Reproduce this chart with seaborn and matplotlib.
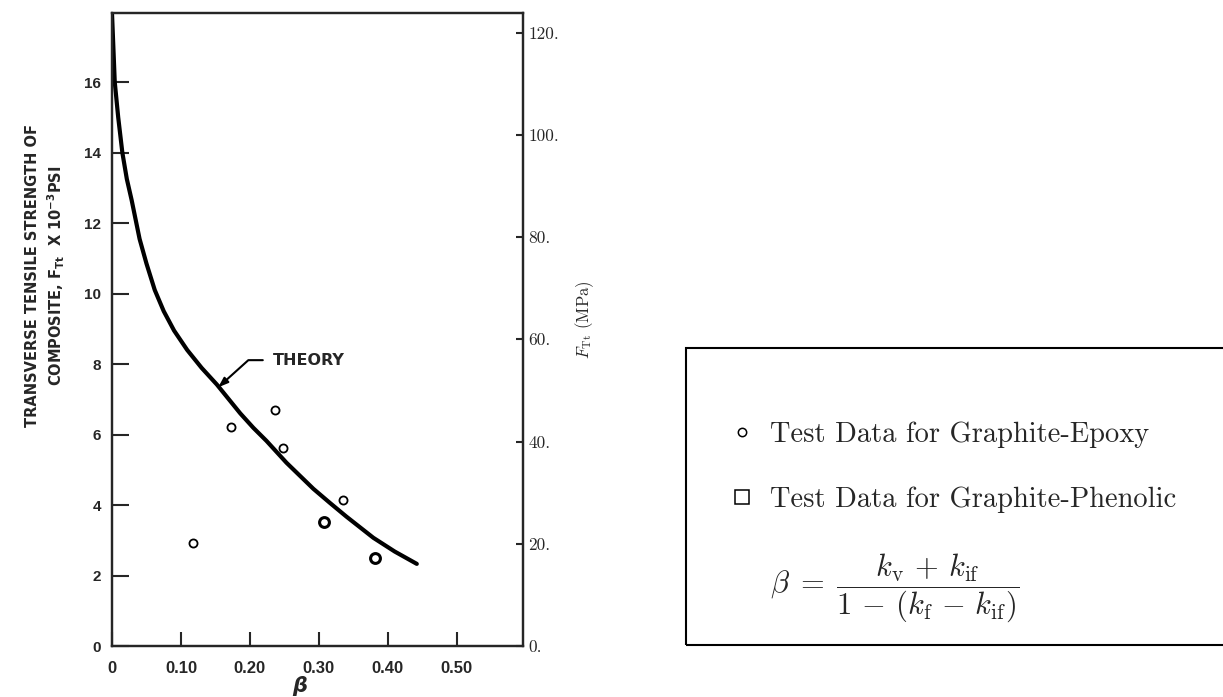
import matplotlib
matplotlib.use("Agg")
import matplotlib.pyplot as plt
from matplotlib.lines import Line2D
from matplotlib.patches import Rectangle
import seaborn as sns

# theory curve
theory_beta = [0.0, 0.004, 0.009, 0.015, 0.0215, 0.0285, 0.040, 0.050, 0.062,
               0.075, 0.090, 0.109, 0.130, 0.152, 0.186, 0.205, 0.224, 0.253,
               0.292, 0.316, 0.340, 0.379, 0.410, 0.442]
theory_ft = [17.95, 16.0, 15.0, 14.0, 13.25, 12.65, 11.55, 10.85, 10.10,
             9.50, 8.95, 8.40, 7.89, 7.42, 6.60, 6.19, 5.82, 5.20,
             4.46, 4.06, 3.67, 3.07, 2.68, 2.33]

# test data (ksi)
epoxy_beta = [0.118, 0.1725, 0.237, 0.248, 0.335]
epoxy_ft = [2.93, 6.20, 6.71, 5.62, 4.13]
phenolic_beta = [0.307, 0.382]
phenolic_ft = [3.53, 2.51]

x_ticks = [0.0, 0.1, 0.2, 0.3, 0.4, 0.5]
x_ticklabels = ["0", "0.10", "0.20", "0.30", "0.40", "0.50"]
y_ticks = [0, 2, 4, 6, 8, 10, 12, 14, 16]
mpa_ticks = [0, 20, 40, 60, 80, 100, 120]
mpa_ticklabels = ["0.", "20.", "40.", "60.", "80.", "100.", "120."]
KSI_TO_MPA = 6.895

legend_labels = ["Test Data for Graphite-Epoxy",
                 "Test Data for Graphite-Phenolic",
                 r"$\beta\;=\;\dfrac{k_{\rm v}\,+\,k_{\rm if}}"
                 r"{1\,-\,(k_{\rm f}\,-\,k_{\rm if})}$"]

sns.set_style("ticks")
plt.rcParams["mathtext.fontset"] = "cm"
plt.rcParams["font.family"] = ["Liberation Sans", "DejaVu Sans"]

W, H = 1223, 697
fig = plt.figure(figsize=(W / 100, H / 100), dpi=100)
ax = fig.add_axes([112 / W, 51 / H, 411 / W, 633 / H])

sns.lineplot(x=theory_beta, y=theory_ft, ax=ax, color="black", lw=3.0,
             sort=False, solid_joinstyle="round", solid_capstyle="round")
sns.scatterplot(x=epoxy_beta, y=epoxy_ft, ax=ax, marker="o", s=34,
                facecolor="white", edgecolor="black", linewidth=1.3, zorder=3)
sns.scatterplot(x=phenolic_beta, y=phenolic_ft, ax=ax, marker="o", s=50,
                facecolor="white", edgecolor="black", linewidth=2.2, zorder=3)

ax.set_xlim(0, 0.596)
ax.set_ylim(0, 17.96)
ax.set_xticks(x_ticks)
ax.set_xticklabels(x_ticklabels)
ax.set_yticks(y_ticks)
ax.set_yticklabels([str(v) for v in y_ticks])
for s in ax.spines.values():
    s.set_linewidth(1.6)
ax.tick_params(axis="y", direction="in", length=12, width=1.5, pad=8,
               labelsize=11)
ax.tick_params(axis="x", direction="in", length=10, width=1.5, pad=11,
               labelsize=12)
for lab in ax.get_xticklabels() + ax.get_yticklabels():
    lab.set_fontweight("bold")

ax.set_xlabel(r"$\boldsymbol{\beta}$", fontsize=15, math_fontfamily="dejavusans")
ax.xaxis.set_label_coords(0.457, -0.045)
ax.set_ylabel("TRANSVERSE TENSILE STRENGTH OF\n"
              r"COMPOSITE, $\mathbf{F}_{\mathbf{Tt}}$  X 10$^{\mathbf{-3}}$PSI",
              fontsize=10.5, fontweight="bold", family="DejaVu Sans",
              linespacing=1.3, math_fontfamily="dejavusans")
ax.yaxis.set_label_coords(-0.11, 0.585)

ax.annotate("THEORY", xy=(0.154, 7.34), xytext=(0.2335, 8.11),
            fontsize=11.5, fontweight="bold", family="DejaVu Sans",
            ha="left", va="center",
            arrowprops=dict(arrowstyle="-|>,head_length=0.5,head_width=0.18",
                            color="black", lw=1.5, shrinkA=5, shrinkB=0,
                            connectionstyle="angle,angleA=0,angleB=42,rad=0"))

# MPa scale on the right
ax2 = ax.twinx()
ax2.set_ylim(0, 17.96 * KSI_TO_MPA)
ax2.set_yticks(mpa_ticks)
ax2.set_yticklabels(mpa_ticklabels, family="cmr10", fontsize=12.5)
ax2.tick_params(axis="y", direction="in", length=5, width=1.5, pad=4)
for s in ax2.spines.values():
    s.set_linewidth(1.6)
ax2.set_ylabel(r"$F_{\rm Tt}$ (MPa)", family="cmr10", fontsize=12)
ax2.yaxis.set_label_coords(1.122, 0.515)

# key box
handles = [
    Line2D([], [], ls="none", marker="o", ms=6, mfc="white", mec="black", mew=1.1),
    Line2D([], [], ls="none", marker="s", ms=10, mfc="white", mec="black", mew=1.1),
    Line2D([], [], ls="none"),
]
leg = fig.legend(handles, legend_labels, loc="upper left",
                 bbox_to_anchor=(705 / W, 1 - 396 / H), frameon=False,
                 prop={"family": "cmr10", "size": 20.5}, borderpad=0.4,
                 handlelength=0.8, handletextpad=0.6, labelspacing=1.35)
leg.get_texts()[2].set_fontsize(22)
fig.patches.append(Rectangle((686 / W, 1 - 645 / H), 0.6, (645 - 348) / H,
                             transform=fig.transFigure, fill=False,
                             edgecolor="black", lw=1.5))

fig.savefig("out.png", dpi=100)
